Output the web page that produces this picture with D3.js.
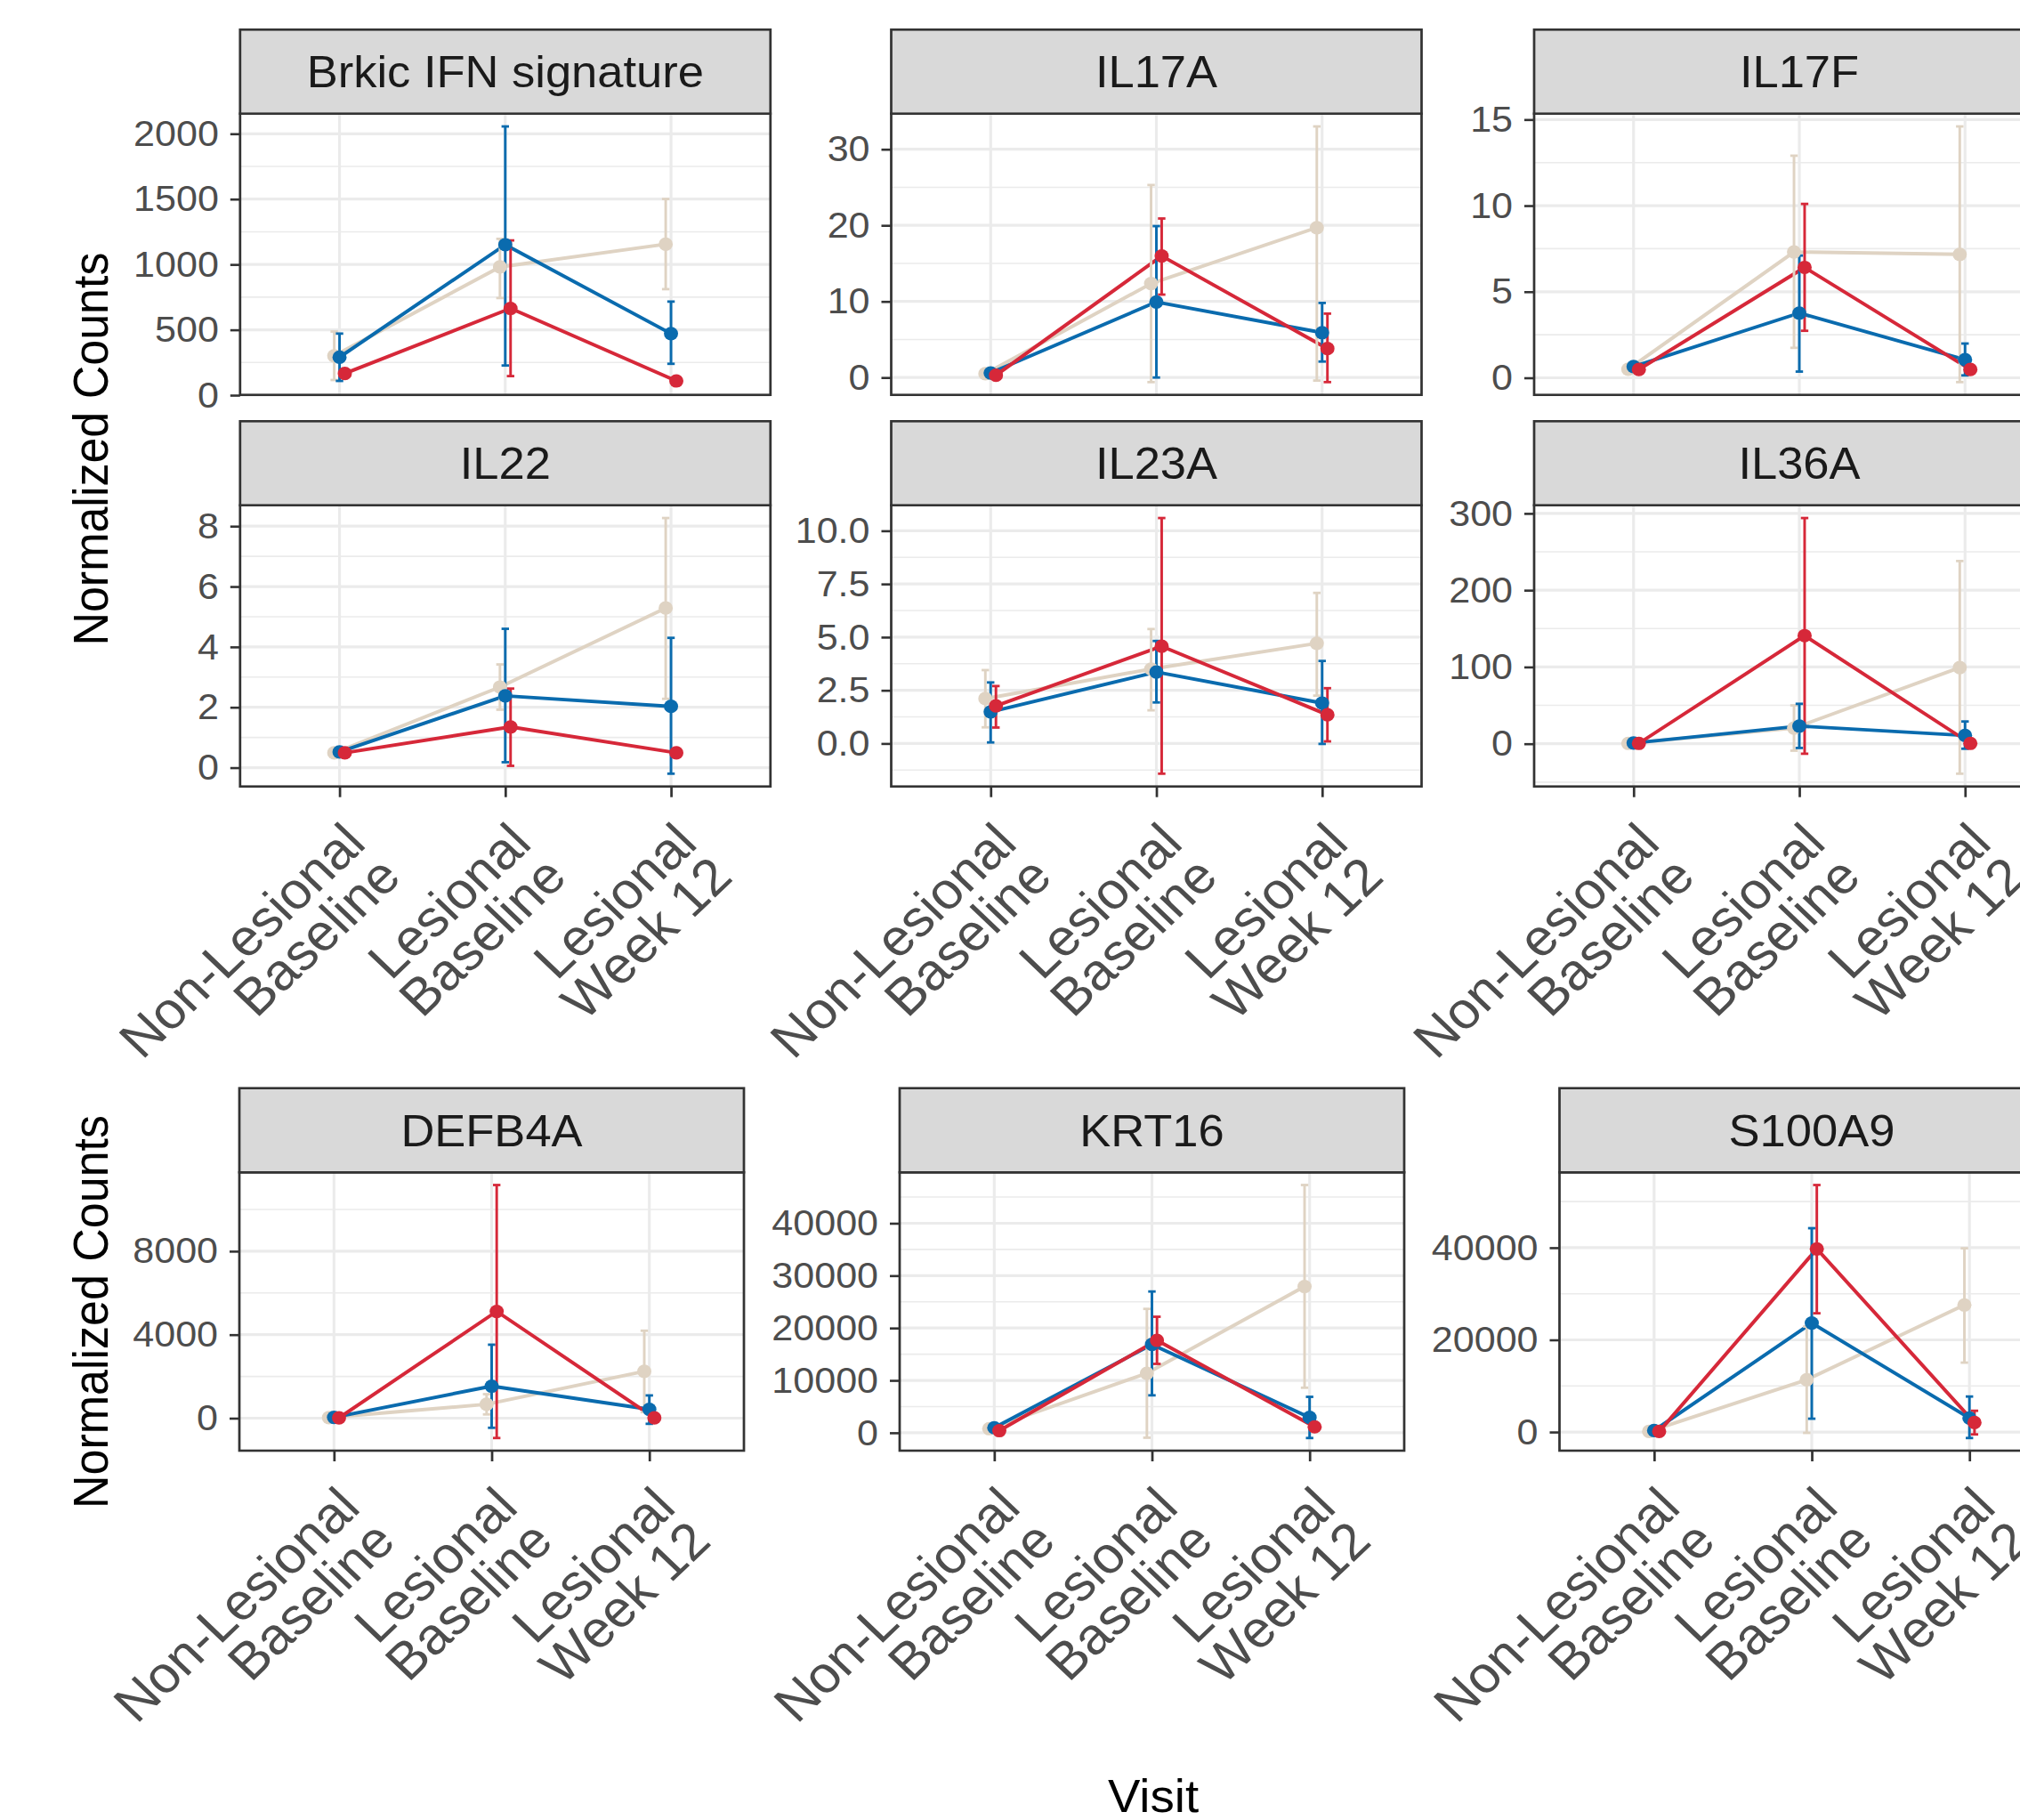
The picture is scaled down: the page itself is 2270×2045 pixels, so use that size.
<!DOCTYPE html>
<html>
<head>
<meta charset="utf-8">
<script src="https://cdn.jsdelivr.net/npm/d3@7"></script>
<style>
  body { margin: 0; background: #fff; }
  text { font-family: "Liberation Sans", Arial, Helvetica, sans-serif; }
</style>
</head>
<body>
<svg id="chart" width="2270" height="2045"></svg>
<script>
// ---- data ----
const visits = [["Non-Lesional", "Baseline"], ["Lesional", "Baseline"], ["Lesional", "Week 12"]];
const genes = ["Brkic IFN signature", "IL17A", "IL17F", "IL22", "IL23A", "IL36A", "DEFB4A", "KRT16", "S100A9"];
const yTicks = [
  [0, 500, 1000, 1500, 2000],
  [0, 10, 20, 30],
  [0, 5, 10, 15],
  [0, 2, 4, 6, 8],
  [0, 2.5, 5, 7.5, 10],
  [0, 100, 200, 300],
  [0, 4000, 8000],
  [0, 10000, 20000, 30000, 40000],
  [0, 20000, 40000]
];

// one row per gene, one value per visit
const beigeMean = [[301, 981, 1155], [0.5, 12.35, 19.7], [0.5, 7.31, 7.17], [0.49, 2.67, 5.29], [2.11, 3.5, 4.71], [0.5, 20.4, 99.2], [30, 665, 2242], [790, 11360, 27930], [130, 11350, 27560]];
const beigeLow  = [[116, 743, 811], [0.3, -0.6, -0.4], [0.35, 1.74, -0.25], [0.4, 1.92, 2.28], [0.76, 1.56, 2.25], [0, -9, -39], [0, 180, 290], [600, -940, 8600], [40, -190, 15060]];
const beigeHigh = [[487, 1196, 1501], [0.7, 25.3, 33.0], [0.65, 12.9, 14.6], [0.58, 3.42, 8.27], [3.45, 5.38, 7.08], [1, 50, 238], [60, 1150, 4190], [980, 23650, 47300], [220, 22890, 39870]];

const blueMean = [[290, 1151, 471], [0.6, 9.93, 5.9], [0.65, 3.76, 1.05], [0.52, 2.38, 2.03], [1.49, 3.36, 1.9], [1, 23, 10.8], [40, 1535, 426], [960, 16855, 2933], [320, 23654, 3013]];
const blueLow   = [[109, 227, 240], [0.4, 0, 2.1], [0.5, 0.36, 0.14], [0.42, 0.18, -0.2], [0.05, 1.93, -0.02], [0, -5.5, -6.5], [0, -460, -270], [800, 7150, -1000], [100, 2890, -1300]];
const blueHigh  = [[471, 2056, 716], [0.8, 19.9, 9.8], [0.8, 7.1, 1.99], [0.62, 4.6, 4.3], [2.87, 4.82, 3.88], [2, 52, 29], [80, 3520, 1090], [1120, 26970, 6860], [540, 44230, 7700]];

const redMean = [[166, 664, 109], [0.3, 15.97, 3.8], [0.48, 6.41, 0.48], [0.49, 1.35, 0.49], [1.77, 4.57, 1.35], [0.5, 140.8, 0.5], [20, 5115, 20], [404, 17650, 1130], [128, 39740, 2050]];
const redLow   = [[136, 146, 100], [0.1, 10.9, -0.6], [0.35, 2.73, 0.3], [0.4, 0.06, 0.4], [0.75, -1.42, 0.1], [0, -13, 0], [0, -950, 0], [250, 13150, 500], [50, 25770, -510]];
const redHigh  = [[196, 1184, 118], [0.5, 20.9, 8.4], [0.6, 10.1, 0.7], [0.58, 2.62, 0.6], [2.7, 10.6, 2.6], [1, 294, 1], [40, 11170, 40], [560, 22150, 1760], [210, 53600, 4610]];

const groups = [
  {color: "#DFD3C3", mean: beigeMean, low: beigeLow, high: beigeHigh},
  {color: "#0A6BAE", mean: blueMean, low: blueLow, high: blueHigh},
  {color: "#D62839", mean: redMean, low: redLow, high: redHigh}
];
const dodge = [-0.032, 0, 0.032];

// ---- layout ----
const SX = 1.05;               // the figure is slightly stretched horizontally
const sx = v => v / SX;
const topPlot = {cols: [269.8, 1001.5, 1724], width: 596, rows: [33.3, 473.3], strip: 94.4, height: 316};
const botPlot = {cols: [269, 1011, 1752.5], width: 567, rows: [1222.7], strip: 94.6, height: 312.7};

const svg = d3.select("#chart");
svg.append("rect").attr("width", 2270).attr("height", 2045).attr("fill", "#fff");
const root = svg.append("g").attr("transform", `scale(${SX},1)`);

function minorBreaks(ticks, domain) {
  const step = ticks[1] - ticks[0];
  const ext = [ticks[0] - step, ...ticks, ticks[ticks.length - 1] + step];
  const out = [];
  for (let i = 0; i < ext.length - 1; i++) {
    const m = (ext[i] + ext[i + 1]) / 2;
    if (m >= domain[0] && m <= domain[1]) out.push(m);
  }
  return out;
}

genes.forEach((gene, gi) => {
  const plot = gi < 6 ? topPlot : botPlot;
  const k = gi < 6 ? gi : gi - 6;
  const col = k % 3, row = Math.floor(k / 3);
  const x0 = sx(plot.cols[col]), w = sx(plot.width);
  const stripTop = plot.rows[row];
  const top = stripTop + plot.strip, h = plot.height, bottom = top + h;
  const showX = gi >= 3;

  const g = root.append("g");

  const x = d3.scalePoint().domain([0, 1, 2]).range([x0, x0 + w]).padding(0.6);
  const step = x.step();

  // y domain like ggplot: data range plus 5% on each side
  const all = groups.flatMap(s => [...s.low[gi], ...s.high[gi], ...s.mean[gi]]);
  const lo = d3.min(all), hi = d3.max(all), pad = (hi - lo) * 0.05;
  const y = d3.scaleLinear().domain([lo - pad, hi + pad]).range([bottom, top]);
  const ticks = yTicks[gi];
  const fmt = ticks.some(t => !Number.isInteger(t)) ? d3.format(".1f") : d3.format("d");

  // grid
  g.selectAll("line.minor").data(minorBreaks(ticks, y.domain())).enter().append("line")
    .attr("x1", x0).attr("x2", x0 + w).attr("y1", d => y(d)).attr("y2", d => y(d))
    .attr("stroke", "#EBEBEB").attr("stroke-width", 1.6);
  g.selectAll("line.major").data(ticks).enter().append("line")
    .attr("x1", x0).attr("x2", x0 + w).attr("y1", d => y(d)).attr("y2", d => y(d))
    .attr("stroke", "#EBEBEB").attr("stroke-width", 3.2);
  g.selectAll("line.vmajor").data(x.domain()).enter().append("line")
    .attr("x1", d => x(d)).attr("x2", d => x(d)).attr("y1", top).attr("y2", bottom)
    .attr("stroke", "#EBEBEB").attr("stroke-width", 3);

  const px = (gIdx, v) => x(v) + dodge[gIdx] * step;

  // lines
  groups.forEach((s, si) => {
    const line = d3.line().x((d, v) => px(si, v)).y(d => y(d));
    g.append("path").datum(s.mean[gi]).attr("d", line)
      .attr("fill", "none").attr("stroke", s.color).attr("stroke-width", 3.9)
      .attr("stroke-linejoin", "round");
  });
  // error bars
  groups.forEach((s, si) => {
    const eb = g.append("g").attr("stroke", s.color).attr("stroke-width", 2.8);
    [0, 1, 2].forEach(v => {
      const cx = px(si, v), y1 = y(s.low[gi][v]), y2 = y(s.high[gi][v]);
      eb.append("line").attr("x1", cx).attr("x2", cx).attr("y1", y1).attr("y2", y2);
      eb.append("line").attr("x1", cx - 4).attr("x2", cx + 4).attr("y1", y1).attr("y2", y1);
      eb.append("line").attr("x1", cx - 4).attr("x2", cx + 4).attr("y1", y2).attr("y2", y2);
    });
  });
  // points
  groups.forEach((s, si) => {
    g.selectAll(null).data(s.mean[gi]).enter().append("circle")
      .attr("cx", (d, v) => px(si, v)).attr("cy", d => y(d)).attr("r", 7.6)
      .attr("fill", s.color);
  });

  // panel border
  g.append("rect").attr("x", x0).attr("y", top).attr("width", w).attr("height", h)
    .attr("fill", "none").attr("stroke", "#333").attr("stroke-width", 2.6);

  // strip
  g.append("rect").attr("x", x0).attr("y", stripTop).attr("width", w).attr("height", plot.strip)
    .attr("fill", "#D9D9D9").attr("stroke", "#333").attr("stroke-width", 2.6);
  g.append("text").attr("x", x0 + w / 2).attr("y", stripTop + plot.strip / 2)
    .attr("dy", "0.36em").attr("text-anchor", "middle")
    .attr("font-size", 50).attr("fill", "#1A1A1A").text(gene);

  // y axis
  const yAxis = g.append("g").attr("transform", `translate(${x0},0)`)
    .call(d3.axisLeft(y).tickValues(ticks).tickFormat(fmt).tickSize(sx(11)).tickPadding(sx(13)));
  yAxis.select(".domain").remove();
  yAxis.selectAll(".tick line").attr("stroke", "#333").attr("stroke-width", 2.6);
  yAxis.selectAll(".tick text").attr("font-size", 41).attr("fill", "#4D4D4D")
    .attr("font-family", "Liberation Sans, Arial, sans-serif");

  // x axis (bottom row of each plot only)
  if (showX) {
    const xAxis = g.append("g").attr("transform", `translate(0,${bottom})`)
      .call(d3.axisBottom(x).tickSize(12).tickFormat(""));
    xAxis.select(".domain").remove();
    xAxis.selectAll(".tick line").attr("stroke", "#333").attr("stroke-width", 2.6);
    visits.forEach((lab, v) => {
      const t = g.append("text")
        .attr("transform", `translate(${x(v)},${bottom + 36}) rotate(-45)`)
        .attr("text-anchor", "end").attr("font-size", 58).attr("fill", "#4D4D4D");
      lab.forEach((ln, li) => {
        t.append("tspan").attr("x", 0).attr("dy", li === 0 ? "0.74em" : "0.92em").text(ln);
      });
    });
  }
});

// axis titles
[504.6, 1474].forEach(cy => {
  root.append("text").attr("transform", `translate(${sx(121)},${cy}) rotate(-90)`)
    .attr("text-anchor", "middle").attr("font-size", 52).attr("fill", "#000")
    .text("Normalized Counts");
});
root.append("text").attr("x", sx(1296)).attr("y", 2036).attr("text-anchor", "middle")
  .attr("font-size", 52).attr("fill", "#000").text("Visit");
</script>
</body>
</html>
